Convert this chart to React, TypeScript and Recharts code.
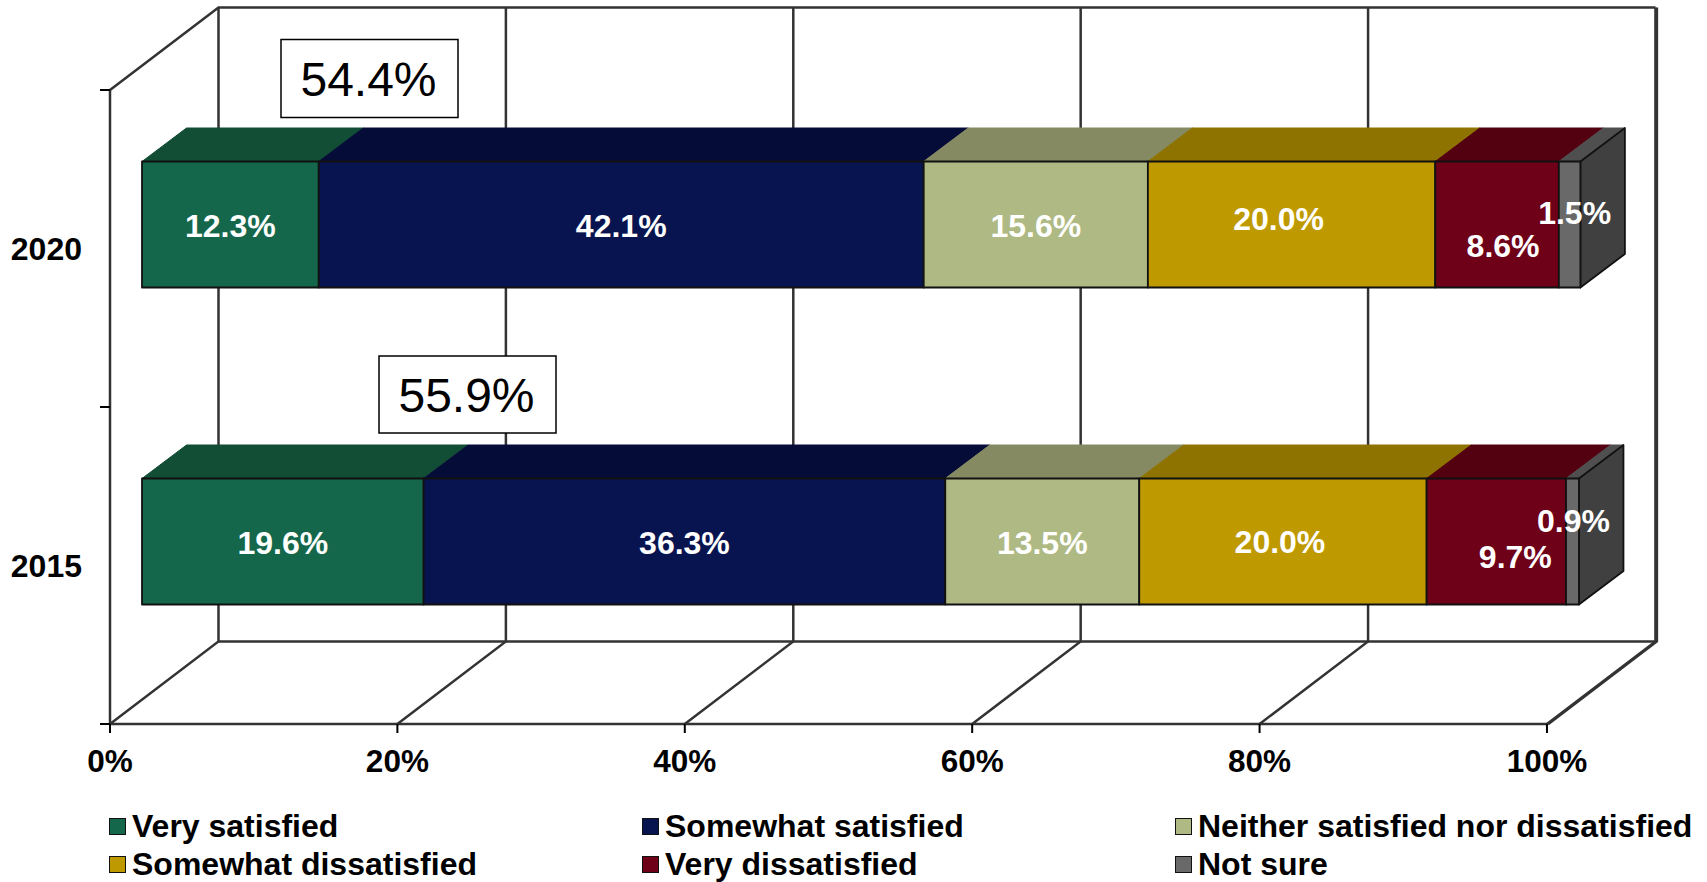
import React from "react";
import {
  BarChart,
  Bar,
  XAxis,
  YAxis,
  CartesianGrid,
  Legend,
  LabelList,
} from "recharts";

const YEARS = ["2020", "2015"];
const VERY_SATISFIED = [12.3, 19.6];
const SOMEWHAT_SATISFIED = [42.1, 36.3];
const NEITHER = [15.6, 13.5];
const SOMEWHAT_DISSATISFIED = [20.0, 20.0];
const VERY_DISSATISFIED = [8.6, 9.7];
const NOT_SURE = [1.5, 0.9];
const X_TICKS = [0, 20, 40, 60, 80, 100];
const TOTAL_SATISFIED = ["54.4%", "55.9%"];

const rows = YEARS.map((year, i) => ({
  year,
  verySatisfied: VERY_SATISFIED[i],
  somewhatSatisfied: SOMEWHAT_SATISFIED[i],
  neither: NEITHER[i],
  somewhatDissatisfied: SOMEWHAT_DISSATISFIED[i],
  veryDissatisfied: VERY_DISSATISFIED[i],
  notSure: NOT_SURE[i],
}));

const FONT = "'Liberation Sans', Arial, sans-serif";
const INK = "#333333";

const WIDTH = 1707;
const HEIGHT = 882;
const PLOT_WIDTH = 1438.4;
const PLOT_HEIGHT = 634;
const BAND = PLOT_HEIGHT / 2;

// depth of the fake 3D box the plot sits in
const WALL_DX = 108.5;
const WALL_DY = 82.5;
// bars stand part way into that box
const BAR_DX = 32;
const BAR_DY = 24.5;
const BAR_DEPTH_X = 44.5;
const BAR_DEPTH_Y = 33.5;

const SERIES = [
  { key: "verySatisfied", name: "Very satisfied", front: "#15674b", top: "#124d35" },
  { key: "somewhatSatisfied", name: "Somewhat satisfied", front: "#08144f", top: "#060c38" },
  { key: "neither", name: "Neither satisfied nor dissatisfied", front: "#afb984", top: "#858a63" },
  { key: "somewhatDissatisfied", name: "Somewhat dissatisfied", front: "#bf9900", top: "#8f7300" },
  { key: "veryDissatisfied", name: "Very dissatisfied", front: "#6e0018", top: "#530010" },
  { key: "notSure", name: "Not sure", front: "#696969", top: "#4f4f4f" },
];

// hand-placed labels, [dx, dy] per year for the series that don't sit centred
const LABEL_NUDGE: Record<string, [number, number][]> = {
  somewhatDissatisfied: [[-13, -7], [-3, -1]],
  veryDissatisfied: [[6, 20], [19, 14]],
  notSure: [[5, -13], [1, -22]],
};

const LEGEND_COLUMNS = [109, 642, 1175];

function Box3D(props: any) {
  const { x, y, width, height, front, top, last } = props;
  const fx = x + BAR_DX;
  const fy = y - BAR_DY;
  const edge = { stroke: "#111", strokeWidth: 1.8, strokeLinejoin: "round" as const };
  return (
    <g>
      <path
        d={`M${fx},${fy} l${BAR_DEPTH_X},${-BAR_DEPTH_Y} h${width} l${-BAR_DEPTH_X},${BAR_DEPTH_Y} Z`}
        fill={top}
        stroke={top}
      />
      {last && (
        <path
          d={`M${fx + width},${fy} l${BAR_DEPTH_X},${-BAR_DEPTH_Y} v${height} l${-BAR_DEPTH_X},${BAR_DEPTH_Y} Z`}
          fill="#404040"
          {...edge}
        />
      )}
      <rect x={fx} y={fy} width={width} height={height} fill={front} {...edge} />
    </g>
  );
}

function ValueLabel(props: any) {
  const { x, y, width, height, value, index, seriesKey } = props;
  const [dx, dy] = LABEL_NUDGE[seriesKey]?.[index] ?? [0, 0];
  return (
    <text
      x={x + BAR_DX + width / 2 + dx}
      y={y - BAR_DY + height / 2 + dy + 1}
      fill="#fff"
      fontFamily={FONT}
      fontSize={32}
      fontWeight="bold"
      textAnchor="middle"
      dominantBaseline="central"
    >
      {`${Number(value).toFixed(1)}%`}
    </text>
  );
}

// back wall, floor and side wall of the box, hung off the x axis gridlines
function WallLine(props: any) {
  const { x1, y1, y2, index } = props;
  const backX = x1 + WALL_DX;
  const line = { stroke: INK, strokeWidth: 2.5, fill: "none" };
  return (
    <g key={`wall-${index}`}>
      <path d={`M${backX},${y1 - WALL_DY} V${y2 - WALL_DY} L${x1},${y2}`} {...line} />
      {index === 0 && (
        <path
          d={`M${x1},${y1} L${backX},${y1 - WALL_DY} H${backX + PLOT_WIDTH - 1.4} M${backX},${y2 - WALL_DY} H${backX + PLOT_WIDTH - 1.4}`}
          {...line}
        />
      )}
    </g>
  );
}

function YearTick(props: any) {
  const { x, y, payload } = props;
  return (
    <g>
      <path d={`M${x - 10},${y - BAND / 2} H${x} M${x - 10},${y + BAND / 2} H${x}`} stroke="#000" strokeWidth={2} />
      <text
        x={x - 28}
        y={y}
        fill="#000"
        fontFamily={FONT}
        fontSize={32}
        fontWeight="bold"
        textAnchor="end"
        dominantBaseline="central"
      >
        {payload.value}
      </text>
    </g>
  );
}

function Callout({ x, y, width, height, label }: any) {
  return (
    <g>
      <rect x={x} y={y} width={width} height={height} fill="#fff" stroke="#000" strokeWidth={1.5} />
      <text
        x={x + width / 2 - 1}
        y={y + height / 2 + 1}
        fill="#000"
        fontFamily={FONT}
        fontSize={48}
        textAnchor="middle"
        dominantBaseline="central"
      >
        {label}
      </text>
    </g>
  );
}

function LegendGrid({ payload }: any) {
  return (
    <div style={{ position: "relative", width: WIDTH, height: 80 }}>
      {(payload ?? []).map((entry: any, i: number) => (
        <div
          key={entry.value}
          style={{
            position: "absolute",
            left: LEGEND_COLUMNS[i % 3],
            top: i < 3 ? 5 : 43.5,
            display: "flex",
            alignItems: "center",
            height: 38,
            fontFamily: FONT,
            fontSize: 32,
            fontWeight: "bold",
            color: "#000",
            whiteSpace: "nowrap",
          }}
        >
          <span
            style={{
              width: 15,
              height: 15,
              marginRight: 6,
              border: "1.5px solid #111",
              background: entry.color,
              display: "inline-block",
            }}
          />
          {entry.value}
        </div>
      ))}
    </div>
  );
}

export default function App() {
  return (
    <div style={{ position: "absolute", left: 0, top: 0, width: WIDTH, height: HEIGHT }}>
      <BarChart
        width={WIDTH}
        height={HEIGHT}
        data={rows}
        layout="vertical"
        margin={{ top: 90, right: WIDTH - 110 - PLOT_WIDTH, bottom: 0, left: 0 }}
        barSize={126}
      >
        <CartesianGrid horizontal={false} vertical={WallLine} />
        <XAxis
          type="number"
          domain={[0, 100]}
          ticks={X_TICKS}
          tickFormatter={(v: number) => `${v}%`}
          height={78}
          interval={0}
          axisLine={{ stroke: INK, strokeWidth: 2.5 }}
          tickLine={{ stroke: "#000", strokeWidth: 2 }}
          tickSize={9}
          tickMargin={17}
          tick={{ fill: "#000", fontFamily: FONT, fontSize: 31.5, fontWeight: "bold" }}
        />
        <YAxis
          type="category"
          dataKey="year"
          width={110}
          axisLine={{ stroke: INK, strokeWidth: 2.5 }}
          tickLine={false}
          tickSize={0}
          tickMargin={0}
          tick={YearTick}
          interval={0}
        />
        <Legend
          content={LegendGrid}
          itemSorter={null}
          wrapperStyle={{ left: 0, bottom: 0, width: WIDTH, height: 80 }}
        />
        {SERIES.map((s, i) => (
          <Bar
            key={s.key}
            dataKey={s.key}
            name={s.name}
            stackId="share"
            fill={s.front}
            isAnimationActive={false}
            shape={(p: any) => (
              <Box3D {...p} front={s.front} top={s.top} last={i === SERIES.length - 1} />
            )}
          >
            <LabelList
              dataKey={s.key}
              content={(p: any) => <ValueLabel {...p} seriesKey={s.key} />}
            />
          </Bar>
        ))}
        <Callout x={281} y={39.5} width={177} height={78} label={TOTAL_SATISFIED[0]} />
        <Callout x={379} y={356} width={177} height={77} label={TOTAL_SATISFIED[1]} />
      </BarChart>
    </div>
  );
}
